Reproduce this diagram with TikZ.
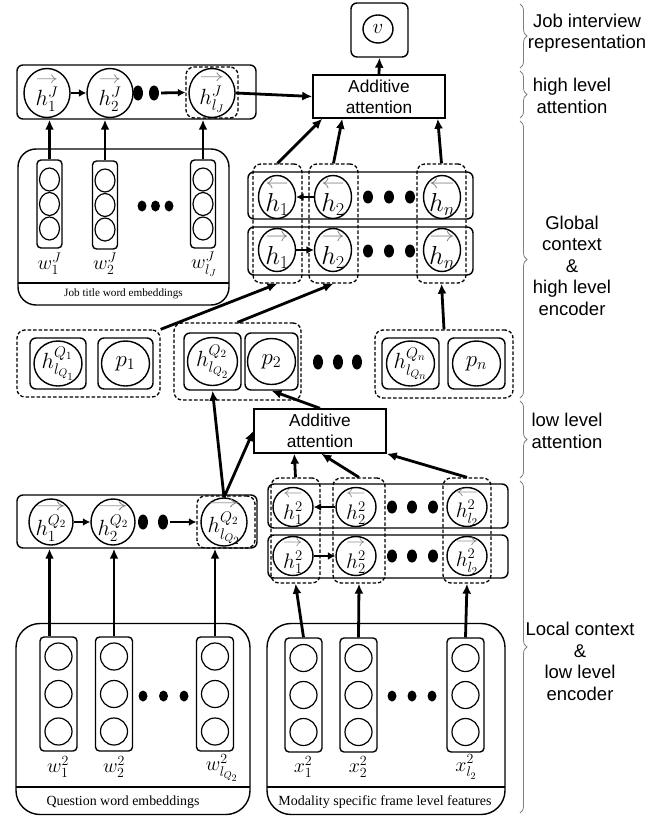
\documentclass[tikz,border=0pt]{standalone}
\usepackage{fix-cm}
\usepackage{amsmath}
\usepackage{graphicx}
\usepackage{fontspec}
\newfontfamily\arialf{Liberation Sans}
\newfontfamily\seriff{Liberation Serif}
\usetikzlibrary{shapes.geometric,arrows.meta,decorations.pathreplacing,calc}
\newsavebox{\argbox}
\newcommand{\myra}[1]{{\sbox{\argbox}{$#1$}\overset{\textcolor{gray}{\resizebox{\wd\argbox}{0.28em}{$\rightarrow$}}}{\usebox{\argbox}}}}
\newcommand{\myla}[1]{{\sbox{\argbox}{$#1$}\overset{\textcolor{gray}{\resizebox{\wd\argbox}{0.28em}{$\leftarrow$}}}{\usebox{\argbox}}}}
\tikzset{
 rbox/.style={draw, line width=1.4pt, rounded corners=6pt, inner sep=0pt},
 bigbox/.style={draw, line width=1.4pt, rounded corners=20pt, inner sep=0pt},
 dbox/.style={draw, dash pattern=on 3.5pt off 2pt, line width=1.3pt, rounded corners=8pt, inner sep=0pt},
 circ/.style={draw, ellipse, line width=1.4pt, inner sep=0pt},
 arr/.style={line width=2.8pt, -{Latex[length=10pt,width=9pt]}},
 sarr/.style={line width=2.8pt, -{Latex[length=7.5pt,width=8pt]}},
 bdot/.style={fill=black, ellipse, inner sep=0pt, minimum width=10pt, minimum height=15pt},
 sdot/.style={fill=black, ellipse, inner sep=0pt, minimum width=9pt, minimum height=11pt},
 attbox/.style={draw, line width=1.4pt, inner sep=0pt, minimum width=132pt, minimum height=43pt, align=center, font=\arialf\fontsize{17.3}{21}\selectfont},
 bracepath/.style={draw=gray, line width=0.8pt, decorate, decoration={brace, amplitude=7pt}},
 sidetext/.style={align=center, font=\arialf\fontsize{18.5}{21.5}\selectfont},
 mlabel/.style={inner sep=0pt, font=\fontsize{20}{20}\selectfont},
}
% #1 name #2 x #3 y #4 w #5 h #6 font size #7 text
\newcommand{\cnode}[7]{%
  \node[circ, minimum width=#4, minimum height=#5] (#1) at (#2,#3) {};
  \node[inner sep=0pt, font=\fontsize{#6}{#6}\selectfont] (#1t) at (#1) {#7};
}
% #1 name #2 cx #3 cy #4 w #5 h #6 circle w #7 circle h #8 spacing
\newcommand{\embvec}[8]{%
  \node[rbox, rounded corners=4pt, minimum width=#4, minimum height=#5] (#1) at (#2,#3) {};
  \node[circ, line width=1.2pt, minimum width=#6, minimum height=#7] (#1a) at (#2,#3-#8) {};
  \node[circ, line width=1.2pt, minimum width=#6, minimum height=#7] (#1b) at (#2,#3) {};
  \node[circ, line width=1.2pt, minimum width=#6, minimum height=#7] (#1c) at (#2,#3+#8) {};
}
\begin{document}
\begin{tikzpicture}[x=1pt,y=-1pt]
\useasboundingbox (0,0) rectangle (664,816);

% ---------- top: representation and high level attention
\node[rbox, minimum width=57, minimum height=54] (vbox) at (379.5,30) {};
\cnode{vc}{378}{29}{30}{28}{21}{$v$}
\node[attbox] (att1) at (379,96.5) {Additive\\attention};
\draw[arr] (att1.north) -- (vbox.south);

% ---------- job title encoder row
\node[rbox, minimum width=239, minimum height=54] (hJbox) at (136.5,92) {};
\cnode{hJ1}{47}{93}{46}{49}{22}{$\myra{h^J_1}$}
\cnode{hJ2}{110}{93}{46}{49}{22}{$\myra{h^J_2}$}
\node[bdot] (dJ1) at (138,93) {};
\node[bdot] (dJ2) at (154,93) {};
\cnode{hJl}{212}{93}{46}{49}{22}{$\myra{h^J_{l_J}}$}
\node[dbox, minimum width=52, minimum height=51] (hJld) at (212,92.5) {};
\draw[sarr] (hJ1.east) -- (hJ2.west);
\draw[sarr, shorten <=2pt] (dJ2.east) -- (hJld.west);
\draw[arr] (hJl.east) -- (att1.west);

% ---------- job title word embeddings
\node[bigbox, rounded corners=18pt, minimum width=211, minimum height=156] (jbox) at (123.5,227) {};
\draw[line width=1.4pt] (18,283) -- (229,283);
\node[font=\seriff\fontsize{11.2}{12}\selectfont] (jlab) at (123.5,294) {Job title word embeddings};
\embvec{wJ1}{49.5}{204}{25}{88}{20}{23}{24.5}
\embvec{wJ2}{105}{205}{25}{88}{20}{23}{24.5}
\embvec{wJl}{203}{204}{25}{88}{20}{23}{24.5}
\node[sdot] (wd1) at (142,206) {};
\node[sdot] (wd2) at (155.5,206) {};
\node[sdot] (wd3) at (169,206) {};
\node[mlabel] (lwJ1) at (49.5,264) {$w^J_1$};
\node[mlabel] (lwJ2) at (105,264) {$w^J_2$};
\node[mlabel] (lwJl) at (204,264) {$w^J_{l_J}$};
\draw[arr] (wJ1.north) -- (wJ1.north |- hJbox.south);
\draw[arr] (wJ2.north) -- (wJ2.north |- hJbox.south);
\draw[arr] (wJl.north) -- (wJl.north |- hJbox.south);

% ---------- global bidirectional encoder
\node[rbox, minimum width=225, minimum height=47] (bwbox) at (360.5,195.5) {};
\node[rbox, minimum width=225, minimum height=48] (fwbox) at (360.5,251) {};
\cnode{bh1}{277}{197}{37}{43}{26}{$\myla{h_1}$}
\cnode{bh2}{333}{197}{37}{43}{26}{$\myla{h_2}$}
\cnode{bhn}{442}{197}{37}{43}{26}{$\myla{h_n}$}
\cnode{fh1}{277}{250}{37}{43}{26}{$\myra{h_1}$}
\cnode{fh2}{333}{250}{37}{43}{26}{$\myra{h_2}$}
\cnode{fhn}{442}{250}{37}{43}{26}{$\myra{h_n}$}
\node[bdot, minimum height=13pt] (bd1) at (368,197) {};
\node[bdot, minimum height=13pt] (bd2) at (389,197) {};
\node[bdot, minimum height=13pt] (bd3) at (410,197) {};
\node[bdot, minimum height=13pt] (fd1) at (368,251) {};
\node[bdot, minimum height=13pt] (fd2) at (389,251) {};
\node[bdot, minimum height=13pt] (fd3) at (410,251) {};
\node[dbox, minimum width=49, minimum height=119] (c1) at (277.5,223.5) {};
\node[dbox, minimum width=49, minimum height=119] (c2) at (333.5,223.5) {};
\node[dbox, minimum width=49, minimum height=119] (cn) at (441.5,223.5) {};
\draw[sarr] (bh2.west) -- (bh1.east);
\draw[sarr] (fh1.east) -- (fh2.west);
\draw[arr] (c1.north) -- ($(att1.south west)+(10,0)$);
\draw[arr] (c2.north) -- ($(att1.south west)+(30,0)$);
\draw[arr] (cn.north) -- ($(att1.south east)+(-8,0)$);

% ---------- question-level blocks
\node[dbox, minimum width=143, minimum height=67] (B1) at (88.5,363.5) {};
\node[rbox, minimum width=56, minimum height=51] (hq1) at (58,363.5) {};
\cnode{hq1c}{58}{363.5}{48}{45}{22}{$h^{Q_1}_{l_{Q_1}}$}
\node[rbox, minimum width=55, minimum height=51] (p1) at (125.5,363.5) {};
\cnode{p1c}{125.5}{363.5}{48}{45}{23}{$p_1$}
\node[dbox, minimum width=127, minimum height=77] (B2) at (237.5,361.5) {};
\node[rbox, minimum width=57, minimum height=57] (hq2) at (212.5,361.5) {};
\cnode{hq2c}{212.5}{361.5}{50}{48}{22}{$h^{Q_2}_{l_{Q_2}}$}
\node[rbox, minimum width=53, minimum height=57] (p2) at (271.5,361.5) {};
\cnode{p2c}{271.5}{361.5}{48}{46}{23}{$p_2$}
\node[bdot] (md1) at (318,362) {};
\node[bdot] (md2) at (338,362) {};
\node[bdot] (md3) at (357,362) {};
\node[dbox, minimum width=138, minimum height=68] (Bn) at (444,364) {};
\node[rbox, minimum width=57, minimum height=51] (hqn) at (410.5,363.5) {};
\cnode{hqnc}{410.5}{363.5}{48}{45}{22}{$h^{Q_n}_{l_{Q_n}}$}
\node[rbox, minimum width=57, minimum height=51] (pn) at (476.5,363.5) {};
\cnode{pnc}{476.5}{363.5}{48}{45}{23}{$p_n$}
\draw[arr] (B1.north east) -- (c1.south);
\draw[arr] (B2.north) -- (c2.south);
\draw[arr] (Bn.north) -- (cn.south);

% ---------- low level attention
\node[attbox, minimum height=44pt] (att2) at (320,431) {Additive\\attention};
\draw[arr] (att2.north) -- (p2.south);

% ---------- question word encoder row
\node[rbox, minimum width=240, minimum height=53] (qbox) at (137,521.5) {};
\cnode{qh1}{51}{522}{44}{46}{22}{$\myra{h^{Q_2}_1}$}
\cnode{qh2}{113}{522}{44}{46}{22}{$\myra{h^{Q_2}_2}$}
\node[bdot] (qd1) at (143,522) {};
\node[bdot] (qd2) at (163,522) {};
\cnode{qhl}{224}{522}{46}{48}{22}{$\myra{h^{Q_2}_{l_{Q_2}}}$}
\node[dbox, minimum width=58, minimum height=52] (qhld) at (226,522) {};
\draw[sarr] (qh1.east) -- (qh2.west);
\draw[sarr, shorten <=2pt] (qd2.east) -- (qhld.west);
\draw[arr] (qhl.north) -- (hq2.south);
\draw[arr] (qhl.north) -- (att2.west);

% ---------- local bidirectional encoder
\node[rbox, minimum width=240, minimum height=44] (lbwbox) at (388,506) {};
\node[rbox, minimum width=240, minimum height=43] (lfwbox) at (388,556.5) {};
\cnode{lb1}{293}{507}{40}{39}{21}{$\myla{h^2_1}$}
\cnode{lb2}{356}{507}{40}{39}{21}{$\myla{h^2_2}$}
\cnode{lbl}{467}{507}{40}{39}{21}{$\myla{h^2_{l_2}}$}
\cnode{lf1}{293}{556}{40}{39}{21}{$\myra{h^2_1}$}
\cnode{lf2}{356}{556}{40}{39}{21}{$\myra{h^2_2}$}
\cnode{lfl}{467}{556}{40}{39}{21}{$\myra{h^2_{l_2}}$}
\node[bdot, minimum height=13pt] (lbd1) at (392,507) {};
\node[bdot, minimum height=13pt] (lbd2) at (412,507) {};
\node[bdot, minimum height=13pt] (lbd3) at (433,507) {};
\node[bdot, minimum height=13pt] (lfd1) at (392,556) {};
\node[bdot, minimum height=13pt] (lfd2) at (412,556) {};
\node[bdot, minimum height=13pt] (lfd3) at (433,556) {};
\node[dbox, minimum width=49, minimum height=105] (lc1) at (295.5,530.5) {};
\node[dbox, minimum width=52, minimum height=105] (lc2) at (359,530.5) {};
\node[dbox, minimum width=48, minimum height=105] (lcl) at (467,530.5) {};
\draw[sarr] (lb2.west) -- (lb1.east);
\draw[sarr] (lf1.east) -- (lf2.west);
\draw[arr] (lc1.north) -- ($(att2.south west)+(41,0)$);
\draw[arr] (lc2.north) -- ($(att2.south west)+(68,0)$);
\draw[arr] (lcl.north) -- (att2.south east);

% ---------- question word embeddings
\node[bigbox, rounded corners=24pt, minimum width=234, minimum height=191] (qebox) at (133,719) {};
\draw[line width=1.4pt] (16,787) -- (250,787);
\node[font=\seriff\fontsize{13.9}{14}\selectfont] (qelab) at (123,802) {Question word embeddings};
\embvec{qv1}{58.5}{694}{37}{114}{27}{27}{37.5}
\embvec{qv2}{114}{694}{37}{114}{27}{27}{37.5}
\embvec{qvl}{215}{694}{37}{114}{27}{27}{37.5}
\node[sdot] (qed1) at (143,696) {};
\node[sdot] (qed2) at (163.5,696) {};
\node[sdot] (qed3) at (184,696) {};
\node[mlabel] (lqv1) at (58,767) {$w^2_1$};
\node[mlabel] (lqv2) at (114,767) {$w^2_2$};
\node[mlabel] (lqvl) at (222,768) {$w^2_{l_{Q_2}}$};
\draw[arr] ([xshift=-9pt]qv1.north) -- ([xshift=-9pt]qv1.north |- qbox.south);
\draw[arr] (qv2.north) -- (qv2.north |- qbox.south);
\draw[arr] (qvl.north) -- (qvl.north |- qbox.south);

% ---------- modality specific frame level features
\node[bigbox, rounded corners=24pt, minimum width=238, minimum height=191] (mbox) at (386,719) {};
\draw[line width=1.4pt] (267,787) -- (505,787);
\node[font=\seriff\fontsize{14}{14}\selectfont] (mlab) at (385,802) {Modality specific frame level features};
\embvec{xv1}{303.5}{695}{37}{114}{27}{27}{37}
\embvec{xv2}{358.5}{695}{37}{114}{27}{27}{37}
\embvec{xvl}{465.5}{695}{37}{114}{27}{27}{37}
\node[sdot] (xd1) at (392,696) {};
\node[sdot] (xd2) at (412,696) {};
\node[sdot] (xd3) at (432,696) {};
\node[mlabel] (lxv1) at (303,767) {$x^2_1$};
\node[mlabel] (lxv2) at (358,767) {$x^2_2$};
\node[mlabel] (lxvl) at (466,767) {$x^2_{l_2}$};
\draw[arr] (xv1.north) -- (lc1.south);
\draw[arr] (xv2.north) -- (lc2.south);
\draw[arr] (xvl.north) -- (lcl.south);

% ---------- side braces
\draw[bracepath] (520,4) -- (520,68);
\draw[bracepath] (520,71) -- (520,118);
\draw[bracepath] (520,121) -- (520,398);
\draw[bracepath] (520,401) -- (520,478);
\draw[bracepath] (520,481) -- (520,813);
\node[sidetext] (t1) at (587,33) {Job interview\\representation};
\node[sidetext] (t2) at (572,96) {high level\\attention};
\node[sidetext] (t3) at (572,265.5) {Global\\context\\\&\\high level\\encoder};
\node[sidetext] (t4) at (567,431) {low level\\attention};
\node[sidetext] (t5) at (580,661.5) {Local context\\\&\\low level\\encoder};
\end{tikzpicture}
\end{document}
